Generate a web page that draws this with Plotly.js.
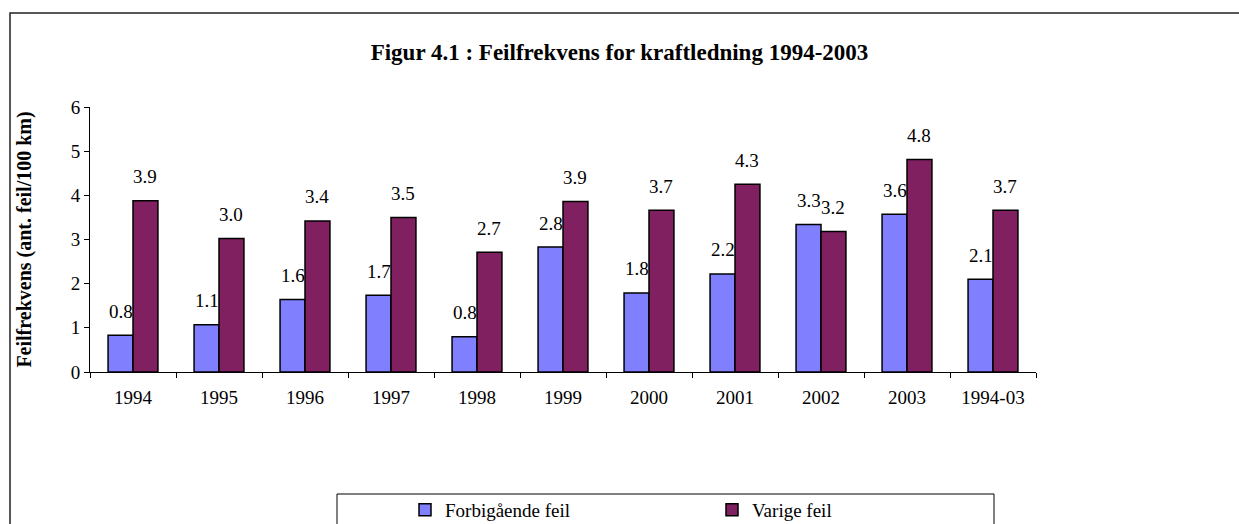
<!DOCTYPE html>
<html>
<head>
<meta charset="utf-8">
<script src="https://cdn.plot.ly/plotly-3.0.1.min.js"></script>
<style>html,body{margin:0;padding:0;background:#fff;}#chart{width:1239px;height:524px;}</style>
</head>
<body>
<div id="chart"></div>
<script>
const categories = ["1994","1995","1996","1997","1998","1999","2000","2001","2002","2003","1994-03"];
const forbigaende = [0.83, 1.07, 1.64, 1.74, 0.80, 2.83, 1.79, 2.22, 3.34, 3.57, 2.10];
const varige = [3.88, 3.02, 3.42, 3.50, 2.71, 3.86, 3.66, 4.25, 3.18, 4.81, 3.66];
const seriesNames = ["Forbigående feil", "Varige feil"];
const yTicks = [0,1,2,3,4,5,6];

const FONT = "Liberation Serif, Times New Roman, serif";
const blue = "#8080FF";
const plum = "#802060";
const FS = 19;

const traces = [
  {type:"bar", name:seriesNames[0], x:categories, y:forbigaende,
   marker:{color:blue, line:{color:"#000", width:1.5}}, hoverinfo:"y"},
  {type:"bar", name:seriesNames[1], x:categories, y:varige,
   marker:{color:plum, line:{color:"#000", width:1.5}}, hoverinfo:"y"}
];

const off = 0.145;
const annotations = [];
categories.forEach((c,i)=>{
  annotations.push({x:i-off, y:forbigaende[i], xref:"x", yref:"y", text:forbigaende[i].toFixed(1),
    showarrow:false, yshift:24, yanchor:"middle", font:{family:FONT,size:FS,color:"#000"}});
  annotations.push({x:i+off, y:varige[i], xref:"x", yref:"y", text:varige[i].toFixed(1),
    showarrow:false, yshift:24, yanchor:"middle", font:{family:FONT,size:FS,color:"#000"}});
});

const L=90, R=203, T=107, B=152, W=1239, H=524;
const pw = W-L-R, ph = H-T-B;
const px = v => (v-L)/pw;
const py = v => (H-B-v)/ph;

const shapes = [
  {type:"rect", xref:"paper", yref:"paper", x0:px(10), x1:px(1260), y0:py(560), y1:py(13),
   line:{color:"#222", width:1.5}, fillcolor:"rgba(0,0,0,0)", layer:"below"},
  {type:"rect", xref:"paper", yref:"paper", x0:px(337), x1:px(994), y0:py(560), y1:py(494),
   line:{color:"#000", width:1}, fillcolor:"rgba(0,0,0,0)", layer:"below"}
];

const layout = {
  width:W, height:H,
  margin:{l:L, r:R, t:T, b:B, autoexpand:false},
  paper_bgcolor:"#fff", plot_bgcolor:"#fff",
  font:{family:FONT, size:FS, color:"#000"},
  title:{text:"<b>Figur 4.1 : Feilfrekvens for kraftledning 1994-2003</b>",
    font:{family:FONT, size:23, color:"#000"},
    xref:"container", x:0.5, xanchor:"center", yref:"container", y:1-52/524, yanchor:"middle"},
  barmode:"group", bargap:0.42, bargroupgap:0,
  xaxis:{type:"category", showline:true, linecolor:"#000", linewidth:1, ticks:"outside", tickson:"boundaries",
    ticklen:5, tickcolor:"#000", showgrid:false, zeroline:false, tickfont:{family:FONT,size:FS},
    ticklabelstandoff:8, automargin:false, fixedrange:true},
  yaxis:{range:[0,6], tickvals:yTicks, ticktext:yTicks.map(String), showline:true, linecolor:"#000", linewidth:1,
    ticks:"outside", ticklen:5, tickcolor:"#000", showgrid:false, zeroline:false, tickfont:{family:FONT,size:FS},
    automargin:false,
    title:{text:"<b>Feilfrekvens (ant. feil/100 km)</b>", font:{family:FONT,size:20}, standoff:33}, fixedrange:true},
  showlegend:true,
  legend:{orientation:"h", xref:"paper", yref:"paper", x:px(405), xanchor:"left", y:py(510), yanchor:"middle",
    entrywidth:262, entrywidthmode:"pixels", font:{family:FONT,size:FS}, bgcolor:"rgba(0,0,0,0)", borderwidth:0, traceorder:"normal"},
  annotations:annotations,
  shapes:shapes
};

Plotly.newPlot("chart", traces, layout, {displayModeBar:false, staticPlot:true});
</script>
</body>
</html>
